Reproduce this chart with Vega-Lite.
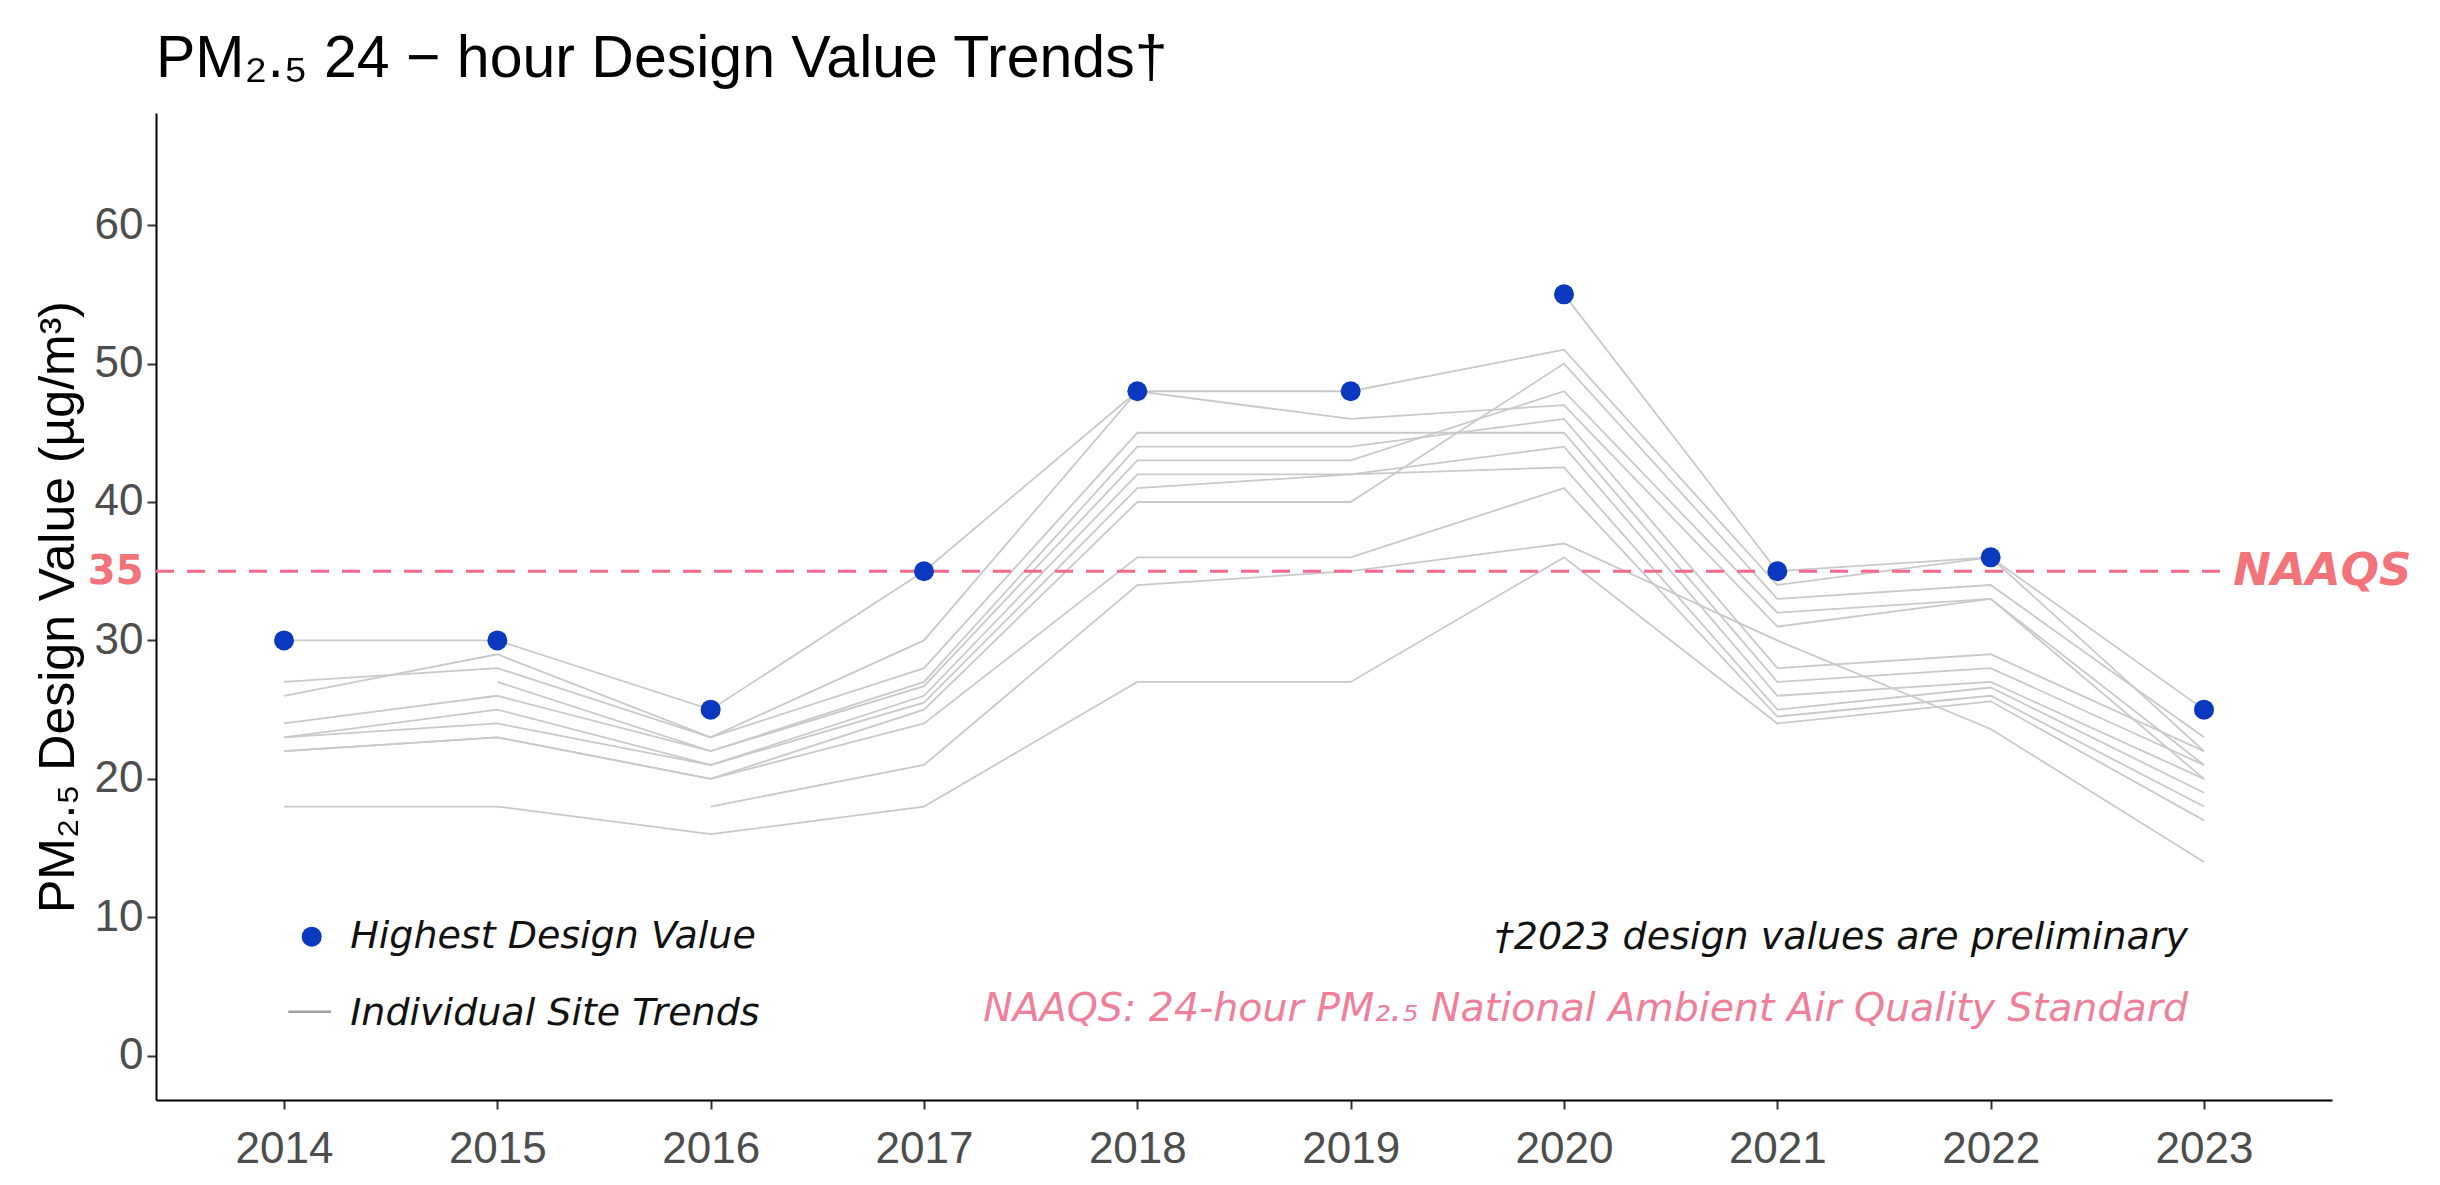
{
  "$schema": "https://vega.github.io/schema/vega-lite/v6.json",
  "width": 2176,
  "height": 987,
  "autosize": {"type": "none"},
  "padding": {"left": 156, "top": 113, "right": 108, "bottom": 85},
  "background": "white",
  "title": {
    "text": "PM₂.₅ 24 − hour Design Value Trends†",
    "anchor": "start",
    "frame": "group",
    "font": "Liberation Sans",
    "fontSize": 59,
    "fontWeight": "normal",
    "color": "#000000",
    "baseline": "alphabetic",
    "offset": -23
  },
  "config": {
    "view": {"stroke": null},
    "axis": {"grid": false}
  },
  "datasets": {
    "sites": [
      {"site": "S1", "year": 2014, "value": 30}, {"site": "S1", "year": 2015, "value": 30}, {"site": "S1", "year": 2016, "value": 25}, {"site": "S1", "year": 2017, "value": 35}, {"site": "S1", "year": 2018, "value": 48}, {"site": "S1", "year": 2019, "value": 48}, {"site": "S1", "year": 2020, "value": 51}, {"site": "S1", "year": 2021, "value": 34}, {"site": "S1", "year": 2022, "value": 36}, {"site": "S1", "year": 2023, "value": 22},
      {"site": "S2", "year": 2020, "value": 55}, {"site": "S2", "year": 2021, "value": 35}, {"site": "S2", "year": 2022, "value": 36}, {"site": "S2", "year": 2023, "value": 25},
      {"site": "S3", "year": 2014, "value": 26}, {"site": "S3", "year": 2015, "value": 29}, {"site": "S3", "year": 2016, "value": 23}, {"site": "S3", "year": 2017, "value": 30}, {"site": "S3", "year": 2018, "value": 48}, {"site": "S3", "year": 2019, "value": 46}, {"site": "S3", "year": 2020, "value": 47}, {"site": "S3", "year": 2021, "value": 31}, {"site": "S3", "year": 2022, "value": 33}, {"site": "S3", "year": 2023, "value": 20},
      {"site": "S4", "year": 2014, "value": 27}, {"site": "S4", "year": 2015, "value": 28}, {"site": "S4", "year": 2016, "value": 23}, {"site": "S4", "year": 2017, "value": 28}, {"site": "S4", "year": 2018, "value": 45}, {"site": "S4", "year": 2019, "value": 45}, {"site": "S4", "year": 2020, "value": 45}, {"site": "S4", "year": 2021, "value": 27}, {"site": "S4", "year": 2022, "value": 28}, {"site": "S4", "year": 2023, "value": 21},
      {"site": "S5", "year": 2015, "value": 27}, {"site": "S5", "year": 2016, "value": 22}, {"site": "S5", "year": 2017, "value": 27}, {"site": "S5", "year": 2018, "value": 44}, {"site": "S5", "year": 2019, "value": 44}, {"site": "S5", "year": 2020, "value": 46}, {"site": "S5", "year": 2021, "value": 28}, {"site": "S5", "year": 2022, "value": 29}, {"site": "S5", "year": 2023, "value": 22},
      {"site": "S6", "year": 2014, "value": 24}, {"site": "S6", "year": 2015, "value": 26}, {"site": "S6", "year": 2016, "value": 22}, {"site": "S6", "year": 2017, "value": 26.7}, {"site": "S6", "year": 2018, "value": 43}, {"site": "S6", "year": 2019, "value": 43}, {"site": "S6", "year": 2020, "value": 48}, {"site": "S6", "year": 2021, "value": 32}, {"site": "S6", "year": 2022, "value": 33}, {"site": "S6", "year": 2023, "value": 21},
      {"site": "S7", "year": 2014, "value": 23}, {"site": "S7", "year": 2015, "value": 25}, {"site": "S7", "year": 2016, "value": 21}, {"site": "S7", "year": 2017, "value": 26}, {"site": "S7", "year": 2018, "value": 42}, {"site": "S7", "year": 2019, "value": 42}, {"site": "S7", "year": 2020, "value": 44}, {"site": "S7", "year": 2021, "value": 26}, {"site": "S7", "year": 2022, "value": 27}, {"site": "S7", "year": 2023, "value": 20},
      {"site": "S8", "year": 2014, "value": 23}, {"site": "S8", "year": 2015, "value": 24}, {"site": "S8", "year": 2016, "value": 21}, {"site": "S8", "year": 2017, "value": 25.5}, {"site": "S8", "year": 2018, "value": 41}, {"site": "S8", "year": 2019, "value": 42}, {"site": "S8", "year": 2020, "value": 42.5}, {"site": "S8", "year": 2021, "value": 25}, {"site": "S8", "year": 2022, "value": 26.6}, {"site": "S8", "year": 2023, "value": 19},
      {"site": "S9", "year": 2014, "value": 22}, {"site": "S9", "year": 2015, "value": 23}, {"site": "S9", "year": 2016, "value": 20}, {"site": "S9", "year": 2017, "value": 25}, {"site": "S9", "year": 2018, "value": 40}, {"site": "S9", "year": 2019, "value": 40}, {"site": "S9", "year": 2020, "value": 50}, {"site": "S9", "year": 2021, "value": 33}, {"site": "S9", "year": 2022, "value": 34}, {"site": "S9", "year": 2023, "value": 23},
      {"site": "S10", "year": 2014, "value": 22}, {"site": "S10", "year": 2015, "value": 23}, {"site": "S10", "year": 2016, "value": 20}, {"site": "S10", "year": 2017, "value": 24}, {"site": "S10", "year": 2018, "value": 36}, {"site": "S10", "year": 2019, "value": 36}, {"site": "S10", "year": 2020, "value": 41}, {"site": "S10", "year": 2021, "value": 24.5}, {"site": "S10", "year": 2022, "value": 26}, {"site": "S10", "year": 2023, "value": 18},
      {"site": "S11", "year": 2016, "value": 18}, {"site": "S11", "year": 2017, "value": 21}, {"site": "S11", "year": 2018, "value": 34}, {"site": "S11", "year": 2019, "value": 35}, {"site": "S11", "year": 2020, "value": 37}, {"site": "S11", "year": 2021, "value": 30}, {"site": "S11", "year": 2022, "value": 23.6}, {"site": "S11", "year": 2023, "value": 14},
      {"site": "S12", "year": 2014, "value": 18}, {"site": "S12", "year": 2015, "value": 18}, {"site": "S12", "year": 2016, "value": 16}, {"site": "S12", "year": 2017, "value": 18}, {"site": "S12", "year": 2018, "value": 27}, {"site": "S12", "year": 2019, "value": 27}, {"site": "S12", "year": 2020, "value": 36}, {"site": "S12", "year": 2021, "value": 24}, {"site": "S12", "year": 2022, "value": 25.6}, {"site": "S12", "year": 2023, "value": 17}
    ],
    "highest": [
      {"year": 2014, "value": 30}, {"year": 2015, "value": 30}, {"year": 2016, "value": 25}, {"year": 2017, "value": 35}, {"year": 2018, "value": 48},
      {"year": 2019, "value": 48}, {"year": 2020, "value": 55}, {"year": 2021, "value": 35}, {"year": 2022, "value": 36}, {"year": 2023, "value": 25}
    ]
  },
  "layer": [
    {
      "data": {"name": "sites"},
      "mark": {"type": "line", "color": "#c9c9c9", "strokeWidth": 1.8},
      "encoding": {
        "x": {
          "field": "year", "type": "quantitative",
          "scale": {"domain": [2013.4, 2023.6], "nice": false, "zero": false},
          "axis": {
            "title": null,
            "values": [2014, 2015, 2016, 2017, 2018, 2019, 2020, 2021, 2022, 2023],
            "format": "d",
            "labelFont": "Liberation Sans", "labelFontSize": 44, "labelColor": "#4d4d4d",
            "labelPadding": 18,
            "domainColor": "#000000", "domainWidth": 2,
            "tickColor": "#333333", "tickWidth": 2, "tickSize": 9
          }
        },
        "y": {
          "field": "value", "type": "quantitative",
          "scale": {"domain": [-3.2, 68.1], "nice": false, "zero": false},
          "axis": {
            "title": "PM₂.₅ Design Value (µg/m³)",
            "titleFont": "Liberation Sans", "titleFontSize": 50, "titleFontWeight": "normal", "titleColor": "#000000",
            "titlePadding": 4,
            "values": [0, 10, 20, 30, 35, 40, 50, 60],
            "labelFont": {"condition": {"test": "datum.value === 35", "value": "DejaVu Sans"}, "value": "Liberation Sans"},
            "labelFontSize": {"condition": {"test": "datum.value === 35", "value": 40}, "value": 44},
            "labelFontWeight": {"condition": {"test": "datum.value === 35", "value": "bold"}, "value": "normal"},
            "labelColor": {"condition": {"test": "datum.value === 35", "value": "#f2737a"}, "value": "#4d4d4d"},
            "labelPadding": 4,
            "domainColor": "#000000", "domainWidth": 2,
            "tickColor": "#333333", "tickWidth": 2, "tickSize": 9,
            "tickOpacity": {"condition": {"test": "datum.value === 35", "value": 0}, "value": 1}
          }
        },
        "detail": {"field": "site"}
      }
    },
    {
      "data": {"values": [{"standard": "NAAQS"}]},
      "mark": {"type": "rule", "color": "#f46a8a", "strokeWidth": 3, "strokeDash": [18, 13]},
      "encoding": {
        "x": {"datum": 2013.4, "type": "quantitative"},
        "x2": {"datum": 2023.1},
        "y": {"datum": 35, "type": "quantitative"}
      }
    },
    {
      "data": {"name": "highest"},
      "mark": {"type": "circle", "color": "#0a39c0", "size": 400, "opacity": 1},
      "encoding": {
        "x": {"field": "year", "type": "quantitative"},
        "y": {"field": "value", "type": "quantitative"}
      }
    },
    {
      "data": {"values": [{"label": "NAAQS"}]},
      "mark": {"type": "text", "text": "NAAQS", "align": "left", "baseline": "middle", "dx": 8, "font": "DejaVu Sans", "fontStyle": "italic", "fontWeight": "bold", "fontSize": 45, "color": "#f2737a"},
      "encoding": {
        "x": {"datum": 2023.1, "type": "quantitative"},
        "y": {"datum": 35, "type": "quantitative"}
      }
    },
    {
      "data": {"values": [{"item": "Highest Design Value"}]},
      "mark": {"type": "circle", "color": "#0a39c0", "size": 400, "opacity": 1},
      "encoding": {
        "x": {"datum": 2014.13, "type": "quantitative"},
        "y": {"datum": 8.6, "type": "quantitative"}
      }
    },
    {
      "data": {"values": [{"item": "Individual Site Trends"}]},
      "mark": {"type": "rule", "color": "#a0a0a0", "strokeWidth": 2.5},
      "encoding": {
        "x": {"datum": 2014.02, "type": "quantitative"},
        "x2": {"datum": 2014.22},
        "y": {"datum": 3.18, "type": "quantitative"}
      }
    },
    {
      "data": {"values": [{"item": "Highest Design Value"}]},
      "mark": {"type": "text", "text": "Highest Design Value", "align": "left", "baseline": "alphabetic", "font": "DejaVu Sans", "fontStyle": "italic", "fontSize": 38, "color": "#111111"},
      "encoding": {
        "x": {"datum": 2014.31, "type": "quantitative"},
        "y": {"datum": 7.8, "type": "quantitative"}
      }
    },
    {
      "data": {"values": [{"item": "Individual Site Trends"}]},
      "mark": {"type": "text", "text": "Individual Site Trends", "align": "left", "baseline": "alphabetic", "font": "DejaVu Sans", "fontStyle": "italic", "fontSize": 38, "color": "#111111"},
      "encoding": {
        "x": {"datum": 2014.31, "type": "quantitative"},
        "y": {"datum": 2.24, "type": "quantitative"}
      }
    },
    {
      "data": {"values": [{"note": "preliminary"}]},
      "mark": {"type": "text", "text": "†2023 design values are preliminary", "align": "right", "baseline": "alphabetic", "font": "DejaVu Sans", "fontStyle": "italic", "fontSize": 38, "color": "#111111"},
      "encoding": {
        "x": {"datum": 2022.925, "type": "quantitative"},
        "y": {"datum": 7.7, "type": "quantitative"}
      }
    },
    {
      "data": {"values": [{"note": "naaqs"}]},
      "mark": {"type": "text", "text": "NAAQS: 24-hour PM₂.₅ National Ambient Air Quality Standard", "align": "right", "baseline": "alphabetic", "font": "DejaVu Sans", "fontStyle": "italic", "fontSize": 39.5, "color": "#f07f9a"},
      "encoding": {
        "x": {"datum": 2022.925, "type": "quantitative"},
        "y": {"datum": 2.5, "type": "quantitative"}
      }
    }
  ]
}
